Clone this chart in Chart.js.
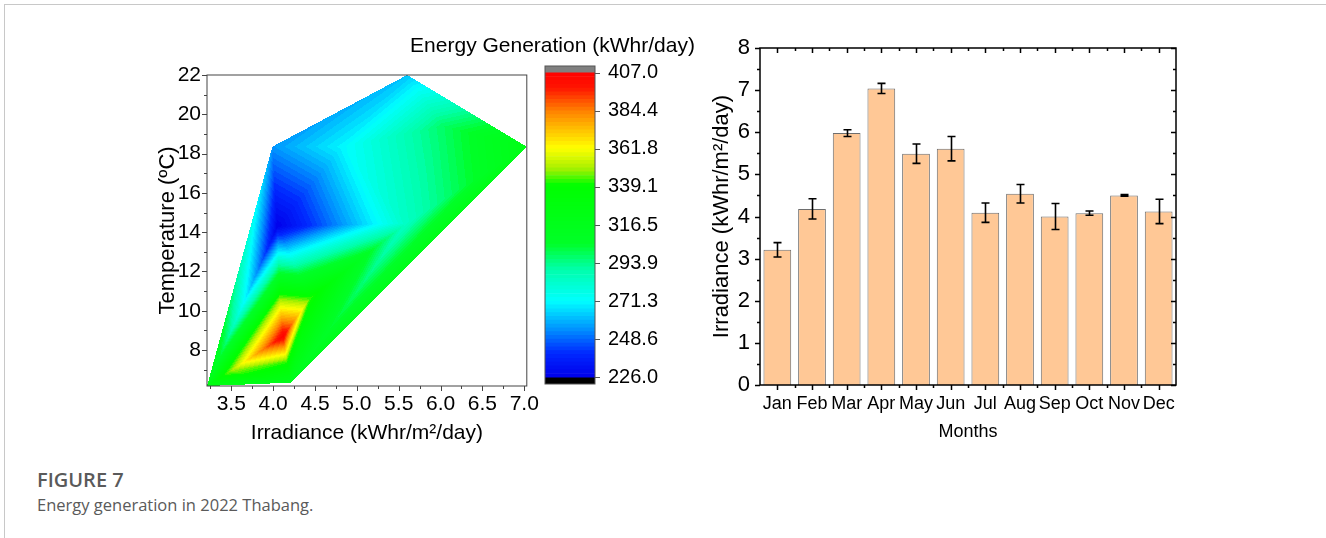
<!DOCTYPE html>
<html lang="en">
<head>
<meta charset="utf-8" />
<script src="https://cdn.jsdelivr.net/npm/chart.js@4.4.0/dist/chart.umd.min.js"></script>
<title>Figure 7</title>
<style>
  html, body { margin: 0; padding: 0; background: #fff; }
  body { width: 1326px; height: 538px; position: relative; overflow: hidden; }
  .frame { position: absolute; left: 4px; top: 4px; width: 1400px; height: 600px;
           border-left: 1px solid #c8c8c8; border-top: 1px solid #c8c8c8; }
  canvas { position: absolute; top: 0; }
  #contour { left: 0; }
  #scale { left: 400px; }
  #bars { left: 680px; }
  .cap { position: absolute; left: 37px; font-family: "Open Sans", sans-serif; color: #5a5a5a; white-space: nowrap; }
  .cap1 { top: 466px; font-size: 20px; font-weight: 600; }
  .cap2 { top: 493px; font-size: 16.5px; font-weight: 400; }
</style>
</head>
<body>
<div class="frame"></div>
<canvas id="contour" width="545" height="450"></canvas>
<canvas id="scale" width="300" height="450"></canvas>
<canvas id="bars" width="646" height="450"></canvas>
<div class="cap cap1">FIGURE 7</div>
<div class="cap cap2">Energy generation in 2022 Thabang.</div>
<script>
// ---- right panel: monthly irradiance
const months = ["Jan", "Feb", "Mar", "Apr", "May", "Jun", "Jul", "Aug", "Sep", "Oct", "Nov", "Dec"];
const irradiance = [3.21, 4.18, 5.98, 7.04, 5.49, 5.61, 4.09, 4.54, 4.00, 4.08, 4.50, 4.12];
const irrError = [0.17, 0.24, 0.08, 0.12, 0.23, 0.29, 0.23, 0.22, 0.31, 0.05, 0.02, 0.29];
const barMajorY = [0, 1, 2, 3, 4, 5, 6, 7, 8];
const barMinorY = [0.5, 1.5, 2.5, 3.5, 4.5, 5.5, 6.5, 7.5];

// ---- left panel: energy generation over irradiance / temperature (triangulated)
const ptIrr    = [3.21, 4.21, 3.99, 5.60, 7.03, 4.05, 5.59, 4.12, 3.50, 4.08, 4.44, 4.16, 4.82, 6.03];
const ptTemp   = [6.17, 6.34, 18.35, 22.0, 18.35, 14.3, 14.45, 8.70, 6.95, 10.58, 10.63, 7.40, 18.35, 19.4];
const ptEnergy = [322, 316, 255, 262, 322, 226, 284, 407, 349, 349, 343, 343, 270, 298];
const triangles = [[0,1,8],[8,1,11],[7,8,11],[7,11,10],[7,10,9],[7,9,8],[0,8,9],[11,1,10],[10,1,6],[1,4,6],
                   [0,9,5],[9,10,5],[10,6,5],[5,6,12],[5,12,2],[0,5,2],[2,12,3],[6,13,12],[12,13,3],[6,4,13],[13,4,3]];
const irrTicks = [3.5, 4.0, 4.5, 5.0, 5.5, 6.0, 6.5, 7.0];
const irrMinor = [3.25, 3.75, 4.25, 4.75, 5.25, 5.75, 6.25, 6.75];
const tempTicks = [8, 10, 12, 14, 16, 18, 20, 22];
const tempMinor = [7, 9, 11, 13, 15, 17, 19, 21];
const energyTicks = [226.0, 248.6, 271.3, 293.9, 316.5, 339.1, 361.8, 384.4, 407.0];
const energyMin = 226, energyMax = 407, nLevels = 80;

// rainbow map, energy value -> rgb
const cmap = [
  [226, [0, 0, 235]], [240, [0, 40, 255]], [255, [0, 150, 255]], [271, [0, 255, 255]],
  [290, [0, 255, 170]], [305, [0, 255, 40]], [340, [0, 255, 0]], [350, [170, 240, 0]],
  [362, [255, 255, 0]], [384, [255, 130, 0]], [398, [255, 20, 0]], [407, [255, 0, 0]]
];
function colourAt(v) {
  if (v <= cmap[0][0]) return cmap[0][1];
  for (let i = 1; i < cmap.length; i++) {
    if (v <= cmap[i][0]) {
      const [v0, c0] = cmap[i - 1], [v1, c1] = cmap[i];
      const t = (v - v0) / (v1 - v0);
      return c0.map((c, k) => Math.round(c + (c1[k] - c) * t));
    }
  }
  return cmap[cmap.length - 1][1];
}
const step = (energyMax - energyMin) / nLevels;
function bandColour(z) {
  let i = Math.floor((z - energyMin) / step);
  i = Math.max(0, Math.min(nLevels - 1, i));
  return colourAt(energyMin + (i + 0.5) * step);
}
const rgb = c => "rgb(" + c.join(",") + ")";

function interpolate(x, y) {
  for (const t of triangles) {
    const [a, b, c] = t;
    const x0 = ptIrr[a], y0 = ptTemp[a], x1 = ptIrr[b], y1 = ptTemp[b], x2 = ptIrr[c], y2 = ptTemp[c];
    const d = (y1 - y2) * (x0 - x2) + (x2 - x1) * (y0 - y2);
    const l0 = ((y1 - y2) * (x - x2) + (x2 - x1) * (y - y2)) / d;
    const l1 = ((y2 - y0) * (x - x2) + (x0 - x2) * (y - y2)) / d;
    const l2 = 1 - l0 - l1;
    if (l0 >= -1e-9 && l1 >= -1e-9 && l2 >= -1e-9) {
      return l0 * ptEnergy[a] + l1 * ptEnergy[b] + l2 * ptEnergy[c];
    }
  }
  return null;
}

// fills the plot with the contour bands, pixel by pixel
const contourFill = {
  id: "contourFill",
  beforeDatasetsDraw(chart) {
    const { ctx, chartArea: a, scales: { x, y } } = chart;
    const w = Math.round(a.right - a.left), h = Math.round(a.bottom - a.top);
    const off = document.createElement("canvas");
    off.width = w; off.height = h;
    const octx = off.getContext("2d");
    const img = octx.createImageData(w, h);
    for (let py = 0; py < h; py++) {
      const ty = y.getValueForPixel(a.top + py + 0.5);
      for (let px = 0; px < w; px++) {
        const z = interpolate(x.getValueForPixel(a.left + px + 0.5), ty);
        if (z === null) continue;
        const c = bandColour(z), k = (py * w + px) * 4;
        img.data[k] = c[0]; img.data[k + 1] = c[1]; img.data[k + 2] = c[2]; img.data[k + 3] = 255;
      }
    }
    octx.putImageData(img, 0, 0);
    ctx.drawImage(off, a.left, a.top);
  }
};

// frame + tick marks (Origin style, in/out)
const frameTicks = {
  id: "frameTicks",
  afterDraw(chart, args, opts) {
    const { ctx, chartArea: a, scales } = chart;
    ctx.save();
    ctx.strokeStyle = opts.colour;
    ctx.lineWidth = opts.width;
    (opts.marks || []).forEach(m => {
      const s = scales[m.axis];
      ctx.beginPath();
      m.values.forEach(v => {
        const p = Math.round(s.getPixelForValue(v)) + 0.5;
        if (m.side === "bottom") { ctx.moveTo(p, a.bottom); ctx.lineTo(p, a.bottom + m.len); }
        if (m.side === "top") { ctx.moveTo(p, a.top); ctx.lineTo(p, a.top + m.len); }
        if (m.side === "left") { ctx.moveTo(a.left, p); ctx.lineTo(a.left - m.len, p); }
        if (m.side === "right") { ctx.moveTo(a.right, p); ctx.lineTo(a.right + m.len, p); }
      });
      ctx.stroke();
    });
    if (opts.box) ctx.strokeRect(a.left, a.top, a.right - a.left, a.bottom - a.top);
    ctx.restore();
  }
};

const FONT = "'Liberation Sans', Arial, sans-serif";
Chart.defaults.font.family = FONT;
Chart.defaults.color = "#000";
Chart.defaults.animation = false;

// ---------- contour chart
new Chart(document.getElementById("contour"), {
  type: "scatter",
  data: { datasets: [{ data: ptIrr.map((v, i) => ({ x: v, y: ptTemp[i] })), pointRadius: 0 }] },
  options: {
    responsive: false,
    layout: { padding: { left: 155, right: 15, top: 75, bottom: 4 } },
    plugins: {
      legend: { display: false }, tooltip: { enabled: false },
      frameTicks: {
        colour: "#444", width: 1, box: true,
        marks: [
          { axis: "x", side: "bottom", values: irrTicks, len: 5 },
          { axis: "x", side: "bottom", values: irrMinor, len: 3 },
          { axis: "y", side: "left", values: tempTicks, len: 5 },
          { axis: "y", side: "left", values: tempMinor, len: 3 }
        ]
      }
    },
    scales: {
      x: {
        type: "linear", min: 3.21, max: 7.03,
        afterBuildTicks: s => { s.ticks = irrTicks.map(v => ({ value: v })); },
        afterFit: s => { s.height = 60; },
        grid: { display: false, drawTicks: false }, border: { display: false },
        ticks: { padding: 6, font: { size: 21 }, callback: v => v.toFixed(1) },
        title: { display: true, text: "Irradiance (kWhr/m²/day)", font: { size: 21 }, padding: 0 }
      },
      y: {
        type: "linear", min: 6.17, max: 22,
        afterBuildTicks: s => { s.ticks = tempTicks.map(v => ({ value: v })); },
        afterFit: s => { s.width = 52; },
        grid: { display: false, drawTicks: false }, border: { display: false },
        ticks: { padding: 6, font: { size: 21 } },
        title: { display: true, text: "Temperature (ºC)", font: { size: 22 }, padding: 0 }
      }
    }
  },
  plugins: [contourFill, frameTicks]
});

// ---------- colour scale
const levelLow = [];
for (let i = 0; i < nLevels; i++) levelLow.push(energyMin + i * step);
const scaleSets = levelLow.map(lo => ({
  data: [[lo, lo + step]], backgroundColor: rgb(bandColour(lo + step / 2)),
  borderWidth: 0, grouped: false, barPercentage: 1, categoryPercentage: 1
}));
scaleSets.push({ data: [[energyMax, 411]], backgroundColor: "#808080", borderWidth: 0, grouped: false, barPercentage: 1, categoryPercentage: 1 });
scaleSets.push({ data: [[222, energyMin]], backgroundColor: "#000", borderWidth: 0, grouped: false, barPercentage: 1, categoryPercentage: 1 });

const scaleTitle = {
  id: "scaleTitle",
  afterDraw(chart) {
    const { ctx } = chart;
    ctx.save();
    ctx.font = "21px " + FONT;
    ctx.fillStyle = "#000";
    ctx.textAlign = "center";
    ctx.textBaseline = "middle";
    ctx.fillText("Energy Generation (kWhr/day)", 152.5, 46);
    ctx.restore();
  }
};

new Chart(document.getElementById("scale"), {
  type: "bar",
  data: { labels: [""], datasets: scaleSets },
  options: {
    responsive: false,
    layout: { padding: { left: 145, right: 5, top: 66, bottom: 66 } },
    plugins: {
      legend: { display: false }, tooltip: { enabled: false },
      frameTicks: {
        colour: "#555", width: 1, box: true,
        marks: [{ axis: "y", side: "right", values: energyTicks, len: 5 }]
      }
    },
    scales: {
      x: { display: false },
      y: {
        position: "right", min: 222, max: 411,
        afterBuildTicks: s => { s.ticks = energyTicks.map(v => ({ value: v })); },
        afterFit: s => { s.width = 100; },
        grid: { display: false, drawTicks: false }, border: { display: false },
        ticks: { padding: 13, font: { size: 20 }, callback: v => v.toFixed(1) }
      }
    }
  },
  plugins: [frameTicks, scaleTitle]
});

// ---------- bar chart with error bars
const errorBars = {
  id: "errorBars",
  afterDatasetsDraw(chart) {
    const { ctx, scales: { y } } = chart;
    const meta = chart.getDatasetMeta(0);
    ctx.save();
    ctx.strokeStyle = "#000";
    ctx.lineWidth = 1.6;
    meta.data.forEach((bar, i) => {
      const x = Math.round(bar.x) + 0.5;
      const top = y.getPixelForValue(irradiance[i] + irrError[i]);
      const bot = y.getPixelForValue(irradiance[i] - irrError[i]);
      ctx.beginPath();
      ctx.moveTo(x, top); ctx.lineTo(x, bot);
      ctx.moveTo(x - 4, top); ctx.lineTo(x + 4, top);
      ctx.moveTo(x - 4, bot); ctx.lineTo(x + 4, bot);
      ctx.stroke();
    });
    ctx.restore();
  }
};

const monthIdx = months.map((m, i) => i);
const monthEdges = months.slice(1).map((m, i) => i + 0.5);

new Chart(document.getElementById("bars"), {
  type: "bar",
  data: {
    labels: months,
    datasets: [{
      data: irradiance, backgroundColor: "#FFC896", borderColor: "#6e6e6e", borderWidth: 1,
      barPercentage: 0.8, categoryPercentage: 1
    }]
  },
  options: {
    responsive: false,
    layout: { padding: { left: 29, right: 150, top: 48, bottom: 7 } },
    plugins: {
      legend: { display: false }, tooltip: { enabled: false },
      frameTicks: {
        colour: "#000", width: 1.5, box: true,
        marks: [
          { axis: "y", side: "left", values: barMajorY, len: 5 },
          { axis: "y", side: "left", values: barMinorY, len: 3 },
          { axis: "y", side: "right", values: barMajorY, len: -5 },
          { axis: "y", side: "right", values: barMinorY, len: -3 },
          { axis: "x", side: "bottom", values: monthIdx, len: 5 },
          { axis: "x", side: "bottom", values: monthEdges, len: 3 },
          { axis: "x", side: "top", values: monthIdx, len: 5 },
          { axis: "x", side: "top", values: monthEdges, len: 3 }
        ]
      }
    },
    scales: {
      x: {
        afterFit: s => { s.height = 58; },
        grid: { display: false, drawTicks: false }, border: { display: false },
        ticks: { padding: 8, font: { size: 18 }, maxRotation: 0, autoSkip: false },
        title: { display: true, text: "Months", font: { size: 18 }, padding: 0 }
      },
      y: {
        min: 0, max: 8,
        afterBuildTicks: s => { s.ticks = barMajorY.map(v => ({ value: v })); },
        afterFit: s => { s.width = 51; },
        grid: { display: false, drawTicks: false }, border: { display: false },
        ticks: { padding: 10, font: { size: 22 } },
        title: { display: true, text: "Irradiance (kWhr/m²/day)", font: { size: 22 }, padding: 0 }
      }
    }
  },
  plugins: [errorBars, frameTicks]
});
</script>
</body>
</html>
